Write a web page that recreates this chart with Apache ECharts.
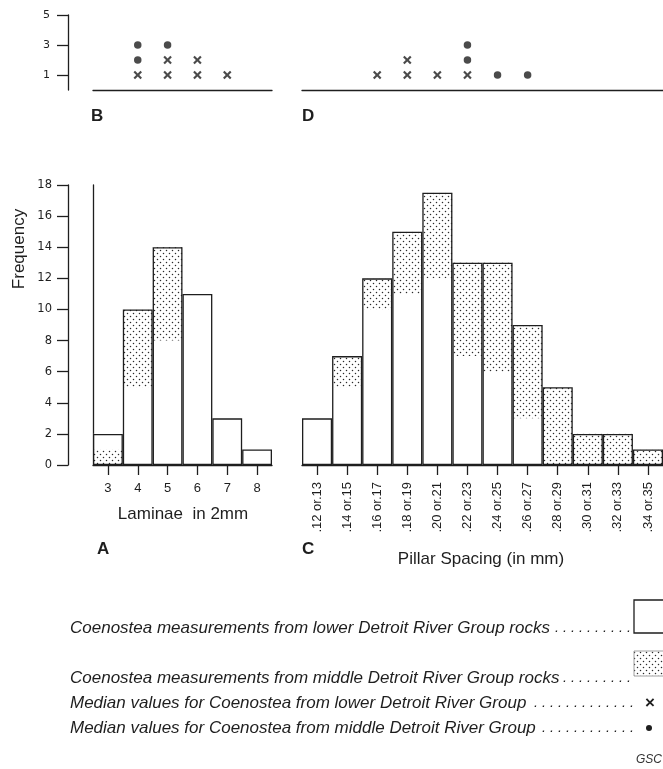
<!DOCTYPE html>
<html>
<head>
<meta charset="utf-8">
<script src="https://cdn.jsdelivr.net/npm/echarts@6/dist/echarts.min.js"></script>
<style>
html,body{margin:0;padding:0;background:#fff;}
#chart{width:663px;height:769px;}
</style>
</head>
<body>
<div id="chart"></div>
<script>
// ---- Data ----
var laminaeCats = ['3','4','5','6','7','8'];
var laminaeLower = [1, 5, 8, 11, 3, 1];
var laminaeMiddleBelow = [1, 0, 0, 0, 0, 0];   // middle-group part drawn under the lower part
var laminaeMiddleAbove = [0, 5, 6, 0, 0, 0];   // middle-group part drawn on top

var pillarCats = ['.12 or.13','.14 or.15','.16 or.17','.18 or.19','.20 or.21','.22 or.23',
                  '.24 or.25','.26 or.27','.28 or.29','.30 or.31','.32 or.33','.34 or.35'];
var pillarLower = [3, 5, 10, 11, 12, 7, 6, 3, 0, 0, 0, 0];
var pillarMiddle = [0, 2, 2, 4, 5.5, 6, 7, 6, 5, 2, 2, 1];

var countTicksB = [1, 3, 5];

// Median value dot plots (category, stacked position)
var medianLowerB = [['4',1],['5',1],['5',2],['6',1],['6',2],['7',1]];
var medianMiddleB = [['4',2],['4',3],['5',3]];
var medianLowerD = [['.16 or.17',1],['.18 or.19',1],['.18 or.19',2],['.20 or.21',1],['.22 or.23',1]];
var medianMiddleD = [['.22 or.23',2],['.22 or.23',3],['.24 or.25',1],['.26 or.27',1]];

var legendTexts = [
  'Coenostea measurements from lower Detroit River Group rocks',
  'Coenostea measurements from middle Detroit River Group rocks',
  'Median values for Coenostea from lower Detroit River Group',
  'Median values for Coenostea from middle Detroit River Group'
];

// ---- Styles ----
var INK = '#1e1e1e';
var SANS = '"Liberation Sans", Arial, sans-serif';

function makePattern() {
  var c = document.createElement('canvas');
  c.width = 6; c.height = 6;
  var g = c.getContext('2d');
  g.fillStyle = '#ffffff';
  g.fillRect(0, 0, 6, 6);
  g.fillStyle = '#2a2a2a';
  g.beginPath(); g.arc(1.5, 1.5, 0.75, 0, Math.PI * 2); g.fill();
  g.beginPath(); g.arc(4.5, 4.5, 0.75, 0, Math.PI * 2); g.fill();
  return c;
}
var patCanvas = makePattern();
var dotted = { image: patCanvas, repeat: 'repeat' };

var crossPath = 'path://M0,1.8 L1.8,0 L5,3.2 L8.2,0 L10,1.8 L6.8,5 L10,8.2 L8.2,10 L5,6.8 L1.8,10 L0,8.2 L3.2,5 Z';

function sum(a, b, c) { return a.map(function (v, i) { return v + b[i] + (c ? c[i] : 0); }); }
var laminaeTotal = sum(laminaeLower, laminaeMiddleBelow, laminaeMiddleAbove);
var pillarTotal = sum(pillarLower, pillarMiddle);

function leader(n) { var s = []; for (var i = 0; i < n; i++) s.push('.'); return s.join(' '); }

var chart = echarts.init(document.getElementById('chart'), null, { renderer: 'canvas' });

var axisLineStyle = { color: INK, width: 1.3 };

function hiddenCatAxis(grid, cats) {
  return {
    type: 'category', gridIndex: grid, data: cats, boundaryGap: true,
    axisLine: { show: true, lineStyle: axisLineStyle },
    axisTick: { show: false }, axisLabel: { show: false }, splitLine: { show: false }
  };
}

var option = {
  animation: false,
  backgroundColor: '#ffffff',
  grid: [
    { left: 93, top: 15, width: 179, height: 75 },   // B
    { left: 302, top: 15, width: 364, height: 75 },  // D
    { left: 93, top: 185, width: 179, height: 280 }, // A
    { left: 302, top: 185, width: 364, height: 280 } // C
  ],
  xAxis: [
    hiddenCatAxis(0, laminaeCats),
    hiddenCatAxis(1, pillarCats),
    {
      type: 'category', gridIndex: 2, data: laminaeCats, boundaryGap: true,
      axisLine: { show: true, lineStyle: axisLineStyle },
      axisTick: { show: true, alignWithLabel: true, length: 10, lineStyle: axisLineStyle },
      axisLabel: { margin: 17, fontSize: 13, color: INK, fontFamily: SANS },
      splitLine: { show: false }
    },
    {
      type: 'category', gridIndex: 3, data: pillarCats, boundaryGap: true,
      axisLine: { show: true, lineStyle: axisLineStyle },
      axisTick: { show: true, alignWithLabel: true, length: 10, lineStyle: axisLineStyle },
      axisLabel: { rotate: 90, margin: 17, fontSize: 13, color: INK, fontFamily: SANS, interval: 0 },
      splitLine: { show: false }
    }
  ],
  yAxis: [
    {
      type: 'value', gridIndex: 0, min: 0, max: 5, position: 'left', offset: 25,
      axisLine: { show: true, lineStyle: axisLineStyle },
      axisTick: { show: true, customValues: countTicksB, length: 11, lineStyle: axisLineStyle },
      axisLabel: { customValues: countTicksB, margin: 18, fontSize: 11, color: INK, fontFamily: '"DejaVu Sans", sans-serif' },
      splitLine: { show: false }
    },
    { type: 'value', gridIndex: 1, min: 0, max: 5, show: false },
    {
      type: 'value', gridIndex: 2, min: 0, max: 18, interval: 2, position: 'left', offset: 25,
      axisLine: { show: true, lineStyle: axisLineStyle },
      axisTick: { show: true, length: 11, lineStyle: axisLineStyle },
      axisLabel: { margin: 16, fontSize: 11.5, color: INK, fontFamily: '"DejaVu Sans", sans-serif' },
      splitLine: { show: false }
    },
    {
      type: 'value', gridIndex: 2, min: 0, max: 18, position: 'left', offset: 0,
      axisLine: { show: true, lineStyle: axisLineStyle },
      axisTick: { show: false }, axisLabel: { show: false }, splitLine: { show: false }
    },
    { type: 'value', gridIndex: 3, min: 0, max: 18, show: false }
  ],
  series: [
    // B dot plot
    { type: 'scatter', xAxisIndex: 0, yAxisIndex: 0, data: medianLowerB, symbol: crossPath, symbolSize: 8.5,
      itemStyle: { color: INK } },
    { type: 'scatter', xAxisIndex: 0, yAxisIndex: 0, data: medianMiddleB, symbol: 'circle', symbolSize: 7.5,
      itemStyle: { color: INK } },
    // D dot plot
    { type: 'scatter', xAxisIndex: 1, yAxisIndex: 1, data: medianLowerD, symbol: crossPath, symbolSize: 8.5,
      itemStyle: { color: INK } },
    { type: 'scatter', xAxisIndex: 1, yAxisIndex: 1, data: medianMiddleD, symbol: 'circle', symbolSize: 7.5,
      itemStyle: { color: INK } },
    // A histogram
    { type: 'bar', xAxisIndex: 2, yAxisIndex: 2, stack: 'A', data: laminaeMiddleBelow, barCategoryGap: '0%',
      itemStyle: { color: dotted, borderWidth: 0 } },
    { type: 'bar', xAxisIndex: 2, yAxisIndex: 2, stack: 'A', data: laminaeLower, barCategoryGap: '0%',
      itemStyle: { color: '#ffffff', borderWidth: 0 } },
    { type: 'bar', xAxisIndex: 2, yAxisIndex: 2, stack: 'A', data: laminaeMiddleAbove, barCategoryGap: '0%',
      itemStyle: { color: dotted, borderWidth: 0 } },
    { type: 'bar', xAxisIndex: 2, yAxisIndex: 2, data: laminaeTotal, barCategoryGap: '0%', barGap: '-100%', z: 3,
      itemStyle: { color: 'rgba(0,0,0,0)', borderColor: INK, borderWidth: 1.3 } },
    // C histogram
    { type: 'bar', xAxisIndex: 3, yAxisIndex: 4, stack: 'C', data: pillarLower, barCategoryGap: '0%',
      itemStyle: { color: '#ffffff', borderWidth: 0 } },
    { type: 'bar', xAxisIndex: 3, yAxisIndex: 4, stack: 'C', data: pillarMiddle, barCategoryGap: '0%',
      itemStyle: { color: dotted, borderWidth: 0 } },
    { type: 'bar', xAxisIndex: 3, yAxisIndex: 4, data: pillarTotal, barCategoryGap: '0%', barGap: '-100%', z: 3,
      itemStyle: { color: 'rgba(0,0,0,0)', borderColor: INK, borderWidth: 1.3 } }
  ],
  graphic: [
    // panel letters
    { type: 'text', left: 91, top: 108, style: { text: 'B', font: 'bold 17px ' + SANS, fill: INK } },
    { type: 'text', left: 302, top: 108, style: { text: 'D', font: 'bold 17px ' + SANS, fill: INK } },
    { type: 'text', left: 97, top: 541, style: { text: 'A', font: 'bold 17px ' + SANS, fill: INK } },
    { type: 'text', left: 302, top: 541, style: { text: 'C', font: 'bold 17px ' + SANS, fill: INK } },
    // axis titles
    { type: 'text', x: 19, y: 249, rotation: Math.PI / 2,
      style: { text: 'Frequency', font: '17px ' + SANS, fill: INK, align: 'center', verticalAlign: 'middle' } },
    { type: 'text', x: 183, y: 514,
      style: { text: 'Laminae  in 2mm', font: '17px ' + SANS, fill: INK, align: 'center', verticalAlign: 'middle' } },
    { type: 'text', x: 481, y: 559,
      style: { text: 'Pillar Spacing (in mm)', font: '17px ' + SANS, fill: INK, align: 'center', verticalAlign: 'middle' } },
    // legend
    { type: 'text', x: 70, y: 628, style: { text: legendTexts[0], font: 'italic 17px ' + SANS, fill: INK, verticalAlign: 'middle' } },
    { type: 'text', x: 631, y: 628, style: { text: leader(10), font: 'italic 14.4px ' + SANS, fill: INK, align: 'right', verticalAlign: 'middle' } },
    { type: 'rect', shape: { x: 634, y: 600, width: 40, height: 33 }, style: { fill: '#ffffff', stroke: INK, lineWidth: 1.3 } },
    { type: 'text', x: 70, y: 678, style: { text: legendTexts[1], font: 'italic 17px ' + SANS, fill: INK, verticalAlign: 'middle' } },
    { type: 'text', x: 631, y: 678, style: { text: leader(9), font: 'italic 14.4px ' + SANS, fill: INK, align: 'right', verticalAlign: 'middle' } },
    { type: 'rect', shape: { x: 634, y: 651, width: 40, height: 25 }, style: { fill: dotted, stroke: '#888', lineWidth: 0.8 } },
    { type: 'text', x: 70, y: 703, style: { text: legendTexts[2], font: 'italic 17px ' + SANS, fill: INK, verticalAlign: 'middle' } },
    { type: 'text', x: 634, y: 703, style: { text: leader(13), font: 'italic 14.4px ' + SANS, fill: INK, align: 'right', verticalAlign: 'middle' } },
    { type: 'text', x: 650, y: 703, style: { text: '×', font: 'bold 17px ' + SANS, fill: INK, align: 'center', verticalAlign: 'middle' } },
    { type: 'text', x: 70, y: 728, style: { text: legendTexts[3], font: 'italic 17px ' + SANS, fill: INK, verticalAlign: 'middle' } },
    { type: 'text', x: 634, y: 728, style: { text: leader(12), font: 'italic 14.4px ' + SANS, fill: INK, align: 'right', verticalAlign: 'middle' } },
    { type: 'circle', shape: { cx: 649, cy: 728, r: 3 }, style: { fill: INK } },
    { type: 'text', x: 636, y: 760, style: { text: 'GSC', font: 'italic 12px ' + SANS, fill: '#333', verticalAlign: 'middle' } }
  ]
};
chart.setOption(option);
</script>
</body>
</html>
